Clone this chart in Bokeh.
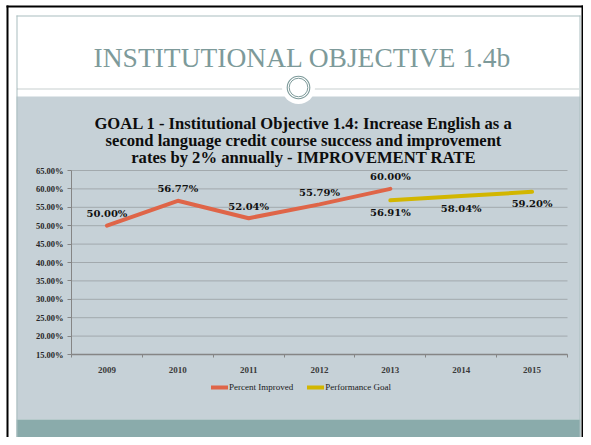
from bokeh.plotting import figure
from bokeh.models import (Range1d, FixedTicker, PrintfTickFormatter, Legend, LegendItem,
                          ColumnDataSource)
from bokeh.core.properties import value
from bokeh.embed import file_html
from bokeh.resources import INLINE

# ---------------- data ----------------
years = ["2009", "2010", "2011", "2012", "2013", "2014", "2015"]
improved_years = ["2009", "2010", "2011", "2012", "2013"]
improved = [50.00, 56.77, 52.04, 55.79, 60.00]
goal_years = ["2013", "2014", "2015"]
goal = [56.91, 58.04, 59.20]
y_ticks = [15, 20, 25, 30, 35, 40, 45, 50, 55, 60, 65]
series_names = ["Percent Improved", "Performance Goal"]
slide_title = "INSTITUTIONAL OBJECTIVE 1.4b"
chart_title_lines = [
    "GOAL 1 - Institutional Objective 1.4: Increase English as a",
    "second language credit course success and improvement",
    "rates by 2% annually - IMPROVEMENT RATE",
]

# ---------------- style / layout (pixels) ----------------
SERIF = "Liberation Serif"
WIDE_SERIF = "DejaVu Serif"
PANEL = "#c6d1d7"
TEAL = "#8aabab"
TITLE_C = "#7d9a9a"
EDGE = "#a9bebf"
ORANGE = "#df6548"
YELLOW = "#d2b600"
GRID = "#a2a9ad"
AXIS = "#858585"

W, H = 583, 437
PL, PR, PT, PB = 71, 567, 170, 354      # plot-area box inside the canvas

n = len(years)
ylo, yhi = y_ticks[0], y_ticks[-1]
xu = n / (PR - PL)
yu = (yhi - ylo) / (PB - PT)
x_rng = Range1d(0 - PL * xu, n + (W - PR) * xu)
y_rng = Range1d(ylo - (H - PB) * yu, yhi + PT * yu)

p = figure(width=W, height=H, output_backend="svg", toolbar_location=None, title=None,
           x_range=x_rng, y_range=y_rng,
           min_border=0, min_border_left=0, min_border_right=0,
           min_border_top=0, min_border_bottom=0)
p.outline_line_color = None
p.background_fill_color = "white"
p.border_fill_color = "white"
p.extra_x_ranges = {"px": Range1d(0, W)}
p.extra_y_ranges = {"px": Range1d(H, 0)}
PX = dict(x_range_name="px", y_range_name="px")


def rect(l, r, t, b, color, level="image"):
    p.quad(left=[l], right=[r], top=[t], bottom=[b], fill_color=color,
           line_color=None, level=level, **PX)


# slide background
rect(16, 580, 96, 419, PANEL)
rect(16, 580, 419, H, TEAL)
rect(16, 580, 15, 16, EDGE)
rect(16, 17, 15, H, EDGE)
rect(579, 580, 15, H, EDGE)
rect(6, 583, 5, 7, "black")
rect(6, 8, 5, H, "black")
rect(581, 583, 5, H, "black")
p.segment(x0=[17], y0=[88.5], x1=[579], y1=[88.5], line_color="#8f9e9e",
          line_width=1, line_dash="1 1", level="image", **PX)

# ornament
p.circle(x=[298], y=[87], radius=16.5, fill_color="white", line_color=None, **PX)
p.circle(x=[298], y=[87], radius=11.3, fill_color=None, line_color=TITLE_C,
         line_width=1.1, **PX)
p.circle(x=[298], y=[87], radius=9.3, fill_color=None, line_color=TITLE_C,
         line_width=1, **PX)

# titles
p.text(x=[302], y=[57], text=[slide_title], text_font=value(SERIF),
       text_font_size="27.5px", text_color=TITLE_C, text_align="center",
       text_baseline="alphabetic", **PX)
p.text(x=[303] * 3, y=[123, 140, 157], text=chart_title_lines, text_font=value(SERIF),
       text_font_size="16.6px", text_font_style="bold", text_color="#0d0d0d",
       text_align="center", text_baseline="alphabetic", **PX)

# ---------------- axes & grid ----------------
centers = [i + 0.5 for i in range(n)]
p.xaxis.fixed_location = ylo
p.xaxis.bounds = (0, n)
p.xaxis.ticker = FixedTicker(ticks=centers, minor_ticks=list(range(n + 1)))
p.xaxis.major_label_overrides = {c: y for c, y in zip(centers, years)}
p.xaxis.axis_line_color = AXIS
p.xaxis.axis_line_width = 1.5
p.xaxis.major_tick_line_color = None
p.xaxis.minor_tick_line_color = AXIS
p.xaxis.minor_tick_out = 3
p.xaxis.minor_tick_in = 0
p.xaxis.major_label_standoff = 6
p.xaxis.major_label_text_font = SERIF
p.xaxis.major_label_text_font_size = "9px"
p.xaxis.major_label_text_font_style = "bold"
p.xaxis.major_label_text_color = "#3a3a3a"

p.yaxis.fixed_location = 0
p.yaxis.bounds = (ylo, yhi)
p.yaxis.ticker = FixedTicker(ticks=y_ticks)
p.yaxis.formatter = PrintfTickFormatter(format="%.2f%%")
p.yaxis.axis_line_color = AXIS
p.yaxis.major_tick_line_color = AXIS
p.yaxis.major_tick_out = 4
p.yaxis.major_tick_in = 0
p.yaxis.minor_tick_line_color = None
p.yaxis.major_label_standoff = 4
p.yaxis.major_label_text_font = SERIF
p.yaxis.major_label_text_font_size = "8.5px"
p.yaxis.major_label_text_font_style = "bold"
p.yaxis.major_label_text_color = "#262626"

p.xgrid.visible = False
p.ygrid.visible = False
p.segment(x0=[0] * len(y_ticks), x1=[n] * len(y_ticks), y0=y_ticks, y1=y_ticks,
          line_color=GRID, line_width=1, level="underlay")

# ---------------- series ----------------
xi = [years.index(y) + 0.5 for y in improved_years]
xg = [years.index(y) + 0.5 for y in goal_years]
r1 = p.line(xi, improved, line_color=ORANGE, line_width=4, line_cap="round")
r2 = p.line(xg, goal, line_color=YELLOW, line_width=4, line_cap="round")

src1 = ColumnDataSource(dict(x=xi, y=improved, t=[f"{v:.2f}%" for v in improved]))
src2 = ColumnDataSource(dict(x=xg, y=goal, t=[f"{v:.2f}%" for v in goal]))
for src, off in ((src1, -12), (src2, 12)):
    p.text(x="x", y="y", text="t", source=src, y_offset=off,
           text_font=value(WIDE_SERIF), text_font_size="10px", text_font_style="bold",
           text_color="#111111", text_align="center", text_baseline="middle")

legend = Legend(items=[LegendItem(label=series_names[0], renderers=[r1]),
                       LegendItem(label=series_names[1], renderers=[r2])],
                orientation="horizontal", location=(211, H - 392),
                background_fill_alpha=0, border_line_color=None,
                padding=0, margin=0, spacing=14, glyph_width=17, glyph_height=8,
                label_standoff=1, label_height=10,
                label_text_font=SERIF, label_text_font_size="9px",
                label_text_color="#1a1a1a")
p.add_layout(legend)

open("out.html", "w").write(file_html(p, INLINE))
